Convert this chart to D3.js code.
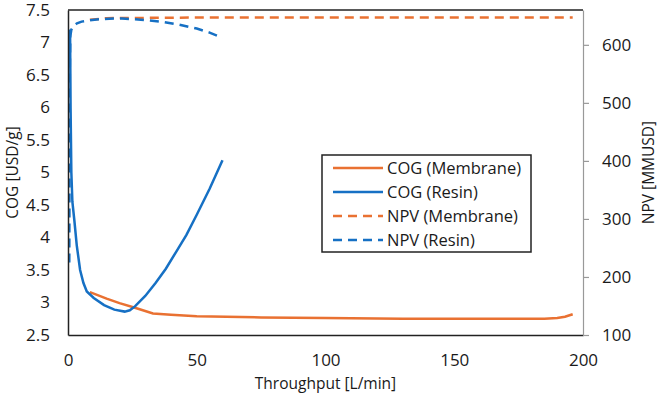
<!DOCTYPE html>
<html>
<head>
<meta charset="utf-8">
<script src="https://cdn.jsdelivr.net/npm/d3@7"></script>
<style>
	body { margin: 0; background: #fff; }
	text { font-family: 'Open Sans', 'Noto Sans', sans-serif; fill: #1a1a1a; }
</style>
</head>
<body>
<div id="chart"></div>
<script>
// throughput [L/min] vs value
const cogMembrane = [
	[8.5, 3.16], [15, 3.06], [20, 2.99], [26, 2.92], [33, 2.83], [40, 2.81],
	[50, 2.79], [75, 2.77], [100, 2.76], [130, 2.75], [160, 2.75], [185, 2.75],
	[190, 2.76], [193, 2.78], [196, 2.82],
]
const cogResin = [
	[0.8, 7.2], [1.0, 6.0], [1.3, 5.0], [1.7, 4.55], [2.5, 4.25], [3.4, 3.88],
	[4.7, 3.5], [6, 3.3], [7.3, 3.17], [10, 3.07], [14, 2.96], [18, 2.89],
	[22, 2.86], [24, 2.88], [26, 2.94], [30, 3.1], [34, 3.3], [38, 3.52],
	[42, 3.78], [46, 4.04], [50, 4.35], [55, 4.75], [60, 5.19],
]
const npvMembrane = [
	[8.5, 643], [15, 646], [50, 647], [100, 647], [150, 647], [196, 647],
]
const npvResin = [
	[0.5, 225], [0.6, 400], [0.7, 560], [0.9, 615], [1.3, 626], [2, 632],
	[3.5, 637], [5.3, 640], [8, 642], [12, 644], [16, 645], [21, 645.5],
	[26, 644], [31, 642.5], [37, 639.5], [43, 635], [50, 628], [55, 621],
	[60, 612],
]

const xTicks = [0, 50, 100, 150, 200]
const leftTicks = [2.5, 3, 3.5, 4, 4.5, 5, 5.5, 6, 6.5, 7, 7.5]
const rightTicks = [100, 200, 300, 400, 500, 600]

const seriesNames = ['COG (Membrane)', 'COG (Resin)', 'NPV (Membrane)', 'NPV (Resin)']

const orange = '#E97132'
const blue = '#1670C4'

const fullWidth = 661
const fullHeight = 399
const margin = {top: 10, right: 78, bottom: 64, left: 68}
const width = fullWidth - margin.left - margin.right
const height = fullHeight - margin.top - margin.bottom

const x = d3.scaleLinear().domain([0, 200]).range([0, width])
const yLeft = d3.scaleLinear().domain([2.5, 7.5]).range([height, 0])
const yRight = d3.scaleLinear().domain([100, 660]).range([height, 0])

const svg = d3
	.select('#chart')
	.append('svg')
	.attr('width', fullWidth)
	.attr('height', fullHeight)
const g = svg.append('g').attr('transform', `translate(${margin.left}, ${margin.top})`)

// series
const series = [
	{data: cogMembrane, y: yLeft, color: orange, dash: null},
	{data: cogResin, y: yLeft, color: blue, dash: null},
	{data: npvMembrane, y: yRight, color: orange, dash: '9,6'},
	{data: npvResin, y: yRight, color: blue, dash: '9,6'},
]

series.forEach((s) => {
	const line = d3
		.line()
		.x((d) => x(d[0]))
		.y((d) => s.y(d[1]))
	g.append('path')
		.datum(s.data)
		.attr('d', line)
		.attr('fill', 'none')
		.attr('stroke', s.color)
		.attr('stroke-width', 2.5)
		.attr('stroke-dasharray', s.dash)
})

// axes
const fontSize = '17px'

const leftAxis = g
	.append('g')
	.call(d3.axisLeft(yLeft).tickValues(leftTicks).tickFormat(d3.format('~g')).tickSize(0).tickPadding(18))
leftAxis.select('.domain').attr('stroke', '#222').attr('stroke-width', 1.5)
leftAxis.selectAll('text').style('font-size', fontSize)

const bottomAxis = g
	.append('g')
	.attr('transform', `translate(0, ${height})`)
	.call(d3.axisBottom(x).tickValues(xTicks).tickSize(0).tickPadding(19))
bottomAxis.select('.domain').attr('stroke', '#222').attr('stroke-width', 1.5)
bottomAxis.selectAll('text').style('font-size', fontSize)

const rightAxis = g
	.append('g')
	.attr('transform', `translate(${width}, 0)`)
	.call(d3.axisRight(yRight).tickValues(rightTicks).tickSize(6).tickSizeOuter(0).tickPadding(13))
rightAxis.selectAll('.domain, line').attr('stroke', '#999').attr('stroke-width', 1.2)
rightAxis.selectAll('text').style('font-size', fontSize)

// top border
g.append('line')
	.attr('x1', 0)
	.attr('x2', width)
	.attr('y1', 0)
	.attr('y2', 0)
	.attr('stroke', '#222')
	.attr('stroke-width', 1.5)

// axis titles
svg.append('text')
	.attr('transform', `translate(13, ${margin.top + height / 2}) rotate(-90)`)
	.attr('text-anchor', 'middle')
	.attr('dy', '0.35em')
	.style('font-size', '15.5px')
	.text('COG [USD/g]')

svg.append('text')
	.attr('transform', `translate(649, ${margin.top + height / 2}) rotate(-90)`)
	.attr('text-anchor', 'middle')
	.attr('dy', '0.35em')
	.style('font-size', '15.5px')
	.text('NPV [MMUSD]')

svg.append('text')
	.attr('x', margin.left + width / 2)
	.attr('y', 389)
	.attr('text-anchor', 'middle')
	.style('font-size', '15.5px')
	.text('Throughput [L/min]')

// legend
const legend = svg.append('g').attr('transform', 'translate(322, 155)')
legend.append('rect')
	.attr('width', 209)
	.attr('height', 97)
	.attr('fill', '#fff')
	.attr('stroke', '#222')
	.attr('stroke-width', 1.5)

const item = legend
	.selectAll('.item')
	.data(series)
	.enter()
	.append('g')
	.attr('transform', (_d, i) => `translate(0, ${13 + i * 24})`)
item.append('line')
	.attr('x1', 11)
	.attr('x2', 61)
	.attr('stroke', (d) => d.color)
	.attr('stroke-width', 2.5)
	.attr('stroke-dasharray', (d) => d.dash)
item.append('text')
	.attr('x', 65)
	.attr('dy', '0.35em')
	.style('font-size', '16.5px')
	.text((_d, i) => seriesNames[i])
</script>
</body>
</html>
